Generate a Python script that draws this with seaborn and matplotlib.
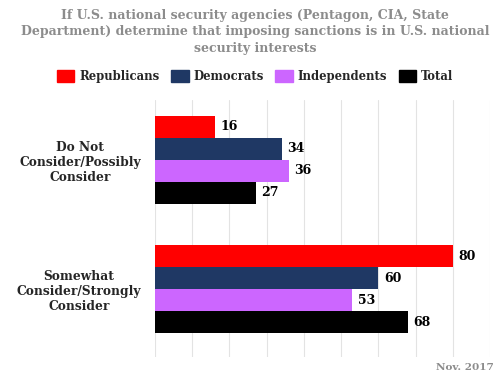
import pandas as pd
import matplotlib.pyplot as plt
import seaborn as sns

# chart data
categories = ["Do Not\nConsider/Possibly\nConsider", "Somewhat\nConsider/Strongly\nConsider"]
groups = ["Republicans", "Democrats", "Independents", "Total"]
republicans = [16, 80]
democrats = [34, 60]
independents = [36, 53]
total = [27, 68]

colors = ["#ff0000", "#1f3864", "#cc66ff", "#000000"]

df = pd.DataFrame({
    "category": categories * 4,
    "group": [g for g in groups for _ in categories],
    "value": republicans + democrats + independents + total,
})

sns.set_style("white")
plt.rcParams["font.family"] = ["DejaVu Serif"]

fig = plt.figure(figsize=(5, 3.76), dpi=100)
ax = fig.add_axes([0.31, 0.05, 0.67, 0.685])

sns.barplot(data=df, y="category", x="value", hue="group", order=categories,
            hue_order=groups, palette=colors, width=0.68, orient="h",
            saturation=1, linewidth=0, ax=ax, legend=False)

for cont in ax.containers:
    ax.bar_label(cont, padding=4, fontsize=9, fontweight="bold", color="black")

ax.set_xlim(0, 90)
ax.set_ylim(1.527, -0.465)
ax.set_xticks(range(0, 91, 10))
ax.xaxis.grid(True, color="#e3e3e3", linewidth=0.8)
ax.set_axisbelow(True)
ax.tick_params(axis="x", labelbottom=False, length=0)
ax.tick_params(axis="y", length=0, pad=10)
for lab in ax.get_yticklabels():
    lab.set_fontweight("bold")
    lab.set_fontsize(8.8)
    lab.set_multialignment("center")
ax.set_xlabel("")
ax.set_ylabel("")
sns.despine(ax=ax, left=True, bottom=True)

fig.text(0.51, 0.977, "If U.S. national security agencies (Pentagon, CIA, State\n"
         "Department) determine that imposing sanctions is in U.S. national\n"
         "security interests", ha="center", va="top", fontsize=9,
         fontweight="bold", color="#8c8c8c", linespacing=1.35)

handles = [plt.Rectangle((0, 0), 1, 1, color=c) for c in colors]
fig.legend(handles, groups, loc="center", bbox_to_anchor=(0.51, 0.797), ncol=4,
           frameon=False, prop={"weight": "bold", "size": 8.4},
           handlelength=1.5, handleheight=1.3, handletextpad=0.4, columnspacing=1.0)

fig.text(0.988, 0.01, "Nov. 2017", ha="right", va="bottom", fontsize=7.5,
         fontweight="bold", color="#8c8c8c")

fig.savefig("out.png", dpi=100)
